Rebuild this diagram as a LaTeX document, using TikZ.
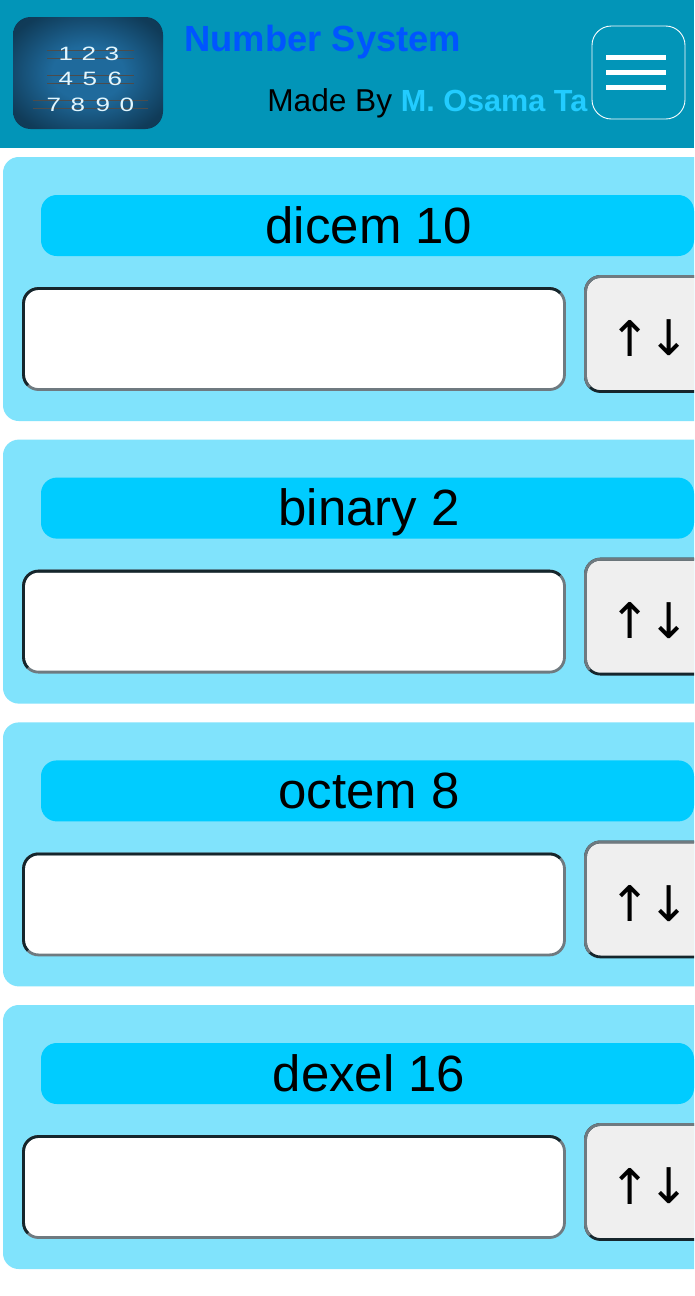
\documentclass[tikz,border=0pt]{standalone}
\usepackage{fontspec}
\setmainfont{Liberation Sans}
\newfontfamily\arrowfont{DejaVu Sans}
\definecolor{headbar}{HTML}{0295B8}
\definecolor{cardbg}{HTML}{80E3FC}
\definecolor{titlebg}{HTML}{00CCFF}
\definecolor{darkedge}{HTML}{16262C}
\definecolor{greyedge}{HTML}{6F7A80}
\definecolor{btnbg}{HTML}{EFEFEF}
\definecolor{titleblue}{HTML}{0055FF}
\definecolor{namecyan}{HTML}{22CCFF}
\definecolor{glow}{HTML}{1F6A9C}
\definecolor{glowedge}{HTML}{0C3048}
\definecolor{digit}{HTML}{E2F7FF}
\pgfdeclareradialshading{logoglow}{\pgfpoint{0bp}{0bp}}{color(0bp)=(glow); color(12bp)=(glow); color(30bp)=(glowedge!80!glow); color(50bp)=(glowedge)}
\tikzset{
  cardtitle/.style={anchor=base,inner sep=0,font=\fontsize{29}{31}\selectfont},
  updown/.style={inner sep=0,font=\arrowfont\fontsize{28}{32}\selectfont},
  logodigit/.style={text=digit,xscale=1.35,inner sep=0,font=\fontsize{11}{13}\selectfont},
  logoline/.style={black!70,line width=0.4pt},
  bevel/.style={line width=1.6pt,rounded corners=8.5pt},
}
\begin{document}
\begin{tikzpicture}[x=0.02cm,y=-0.02cm]
    \useasboundingbox (0,0) rectangle (694,1296);
    \clip (0,0) rectangle (694,1296);
    \fill[white] (0,0) rectangle (694,1296);

    % header
    \fill[headbar] (0,0) rectangle (694,148);
    \shade[rounded corners=10pt,shading=logoglow] (13,17) rectangle (163,129);
    \foreach \y in {50,58,75,83} \draw[logoline] (47,\y) -- (134,\y);
    \foreach \y in {100,108} \draw[logoline] (33,\y) -- (148,\y);
    \node[logodigit] (dA) at (66,54) {1};
    \node[logodigit] (dB) at (89,54) {2};
    \node[logodigit] (dC) at (112,54) {3};
    \node[logodigit] (dD) at (66,79) {4};
    \node[logodigit] (dE) at (90,79) {5};
    \node[logodigit] (dF) at (115,79) {6};
    \node[logodigit] (dG) at (54,105) {7};
    \node[logodigit] (dH) at (78,105) {8};
    \node[logodigit] (dI) at (103,105) {9};
    \node[logodigit] (dJ) at (127,105) {0};

    \node[anchor=base west,inner sep=0,text=titleblue,font=\bfseries\fontsize{20.7}{22}\selectfont] (apptitle) at (184,51.5) {Number System};
    \node[anchor=base west,inner sep=0,font=\fontsize{18}{20}\selectfont] (madeby) at (267,111) {Made By \textcolor{namecyan}{\fontsize{17.4}{20}\selectfont\textbf{M. Osama Ta}}};

    \draw[white,fill=headbar,line width=0.5pt,rounded corners=11pt] (592,26) rectangle (685,119);
    \foreach \y in {57.5,72.5,87.5} \draw[white,line width=2.8pt] (606,\y) -- (666,\y);

    % cards
    \foreach \nm/\lbl/\top in {dec/dicem 10/157,bin/binary 2/439.6,oct/octem 8/722.4,hex/dexel 16/1005}{
        \fill[cardbg,rounded corners=9pt] (3,\top) rectangle (720,\top+264);
        \fill[titlebg,rounded corners=9pt] (41,\top+38) rectangle (694,\top+99);
        \node[cardtitle] (\nm title) at (369,\top+86) {\lbl};

        % input, dark on top and left
        \draw[greyedge,fill=white,bevel] (23.5,\top+131.5) rectangle (564.5,\top+232.5);
        \begin{scope}
            \clip (13,\top+243) -- (43,\top+213) -- (545,\top+151) -- (575,\top+121) -- (13,\top+121) -- cycle;
            \draw[darkedge,bevel] (23.5,\top+131.5) rectangle (564.5,\top+232.5);
        \end{scope}

        % button, dark at the bottom
        \draw[darkedge,fill=btnbg,bevel] (585.5,\top+119.5) rectangle (720,\top+234.5);
        \begin{scope}
            \clip (575,\top+245) -- (605,\top+215) -- (694,\top+130) -- (694,\top+109) -- (575,\top+109) -- cycle;
            \draw[greyedge,bevel] (585.5,\top+119.5) rectangle (720,\top+234.5);
        \end{scope}
        \node[updown] (\nm up) at (630,\top+181) {↑};
        \node[updown] (\nm down) at (669,\top+181) {↓};
    }
\end{tikzpicture}
\end{document}
